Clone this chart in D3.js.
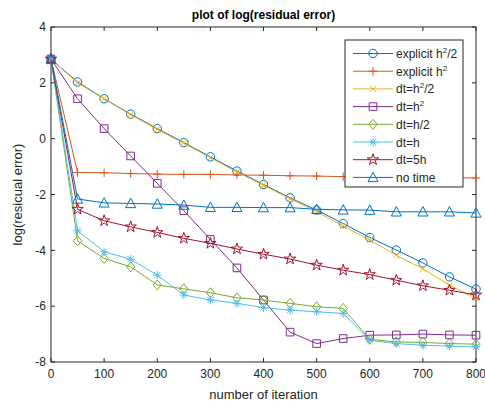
<!DOCTYPE html>
<html>
<head>
<meta charset="utf-8">
<script src="https://cdn.jsdelivr.net/npm/d3@7"></script>
<style>
body { margin: 0; background: #fff; }
text { font-family: "Liberation Sans", Arial, sans-serif; fill: #262626; }
</style>
</head>
<body>
<div id="chart"></div>
<script>
var iterations = [0,50,100,150,200,250,300,350,400,450,500,550,600,650,700,750,800];
var explicitHalf = [2.85,2.03,1.43,0.88,0.36,-0.14,-0.65,-1.16,-1.64,-2.12,-2.56,-3.04,-3.54,-3.99,-4.45,-4.95,-5.39];
var explicitH2 = [2.85,-1.21,-1.22,-1.25,-1.27,-1.28,-1.28,-1.3,-1.31,-1.33,-1.34,-1.36,-1.37,-1.38,-1.39,-1.4,-1.41];
var dtH2Half = [2.85,2.0,1.42,0.86,0.33,-0.17,-0.68,-1.2,-1.67,-2.15,-2.62,-3.13,-3.63,-4.18,-4.66,-5.25,-5.72];
var dtH2 = [2.85,1.43,0.36,-0.62,-1.6,-2.58,-3.61,-4.63,-5.78,-6.93,-7.34,-7.16,-7.04,-7.03,-7.0,-7.03,-7.04];
var dtHHalf = [2.85,-3.66,-4.29,-4.59,-5.24,-5.38,-5.52,-5.7,-5.78,-5.9,-6.02,-6.08,-7.19,-7.28,-7.3,-7.34,-7.36];
var dtH = [2.85,-3.3,-4.05,-4.32,-4.89,-5.6,-5.78,-5.9,-6.05,-6.14,-6.2,-6.26,-7.22,-7.34,-7.4,-7.43,-7.46];
var dt5H = [2.85,-2.53,-2.94,-3.16,-3.36,-3.57,-3.75,-3.95,-4.14,-4.31,-4.53,-4.71,-4.87,-5.07,-5.27,-5.43,-5.6];
var noTime = [2.85,-2.16,-2.3,-2.32,-2.34,-2.38,-2.46,-2.46,-2.47,-2.47,-2.53,-2.55,-2.56,-2.62,-2.62,-2.62,-2.66];
var xTicks = [0,100,200,300,400,500,600,700,800];
var yTicks = [-8,-6,-4,-2,0,2,4];

var series = [
  {name: ["explicit h","2","/2"], values: explicitHalf, color: "#0072BD", marker: "circle"},
  {name: ["explicit h","2",""], values: explicitH2, color: "#D95319", marker: "plus"},
  {name: ["dt=h","2","/2"], values: dtH2Half, color: "#EDB120", marker: "x"},
  {name: ["dt=h","2",""], values: dtH2, color: "#7E2F8E", marker: "square"},
  {name: ["dt=h/2","",""], values: dtHHalf, color: "#77AC30", marker: "diamond"},
  {name: ["dt=h","",""], values: dtH, color: "#4DBEEE", marker: "asterisk"},
  {name: ["dt=5h","",""], values: dt5H, color: "#A2142F", marker: "star"},
  {name: ["no time","",""], values: noTime, color: "#0072BD", marker: "triangle"}
];

var W = 485, H = 406;
var margin = {top:27, right:9, bottom:44, left:51},
  width = W - margin.left - margin.right,
  height = H - margin.top - margin.bottom;

var svg = d3.select("#chart").append("svg")
  .attr("width", W).attr("height", H);
var g = svg.append("g")
  .attr("transform", `translate(${margin.left},${margin.top})`);

var x = d3.scaleLinear().domain([0,800]).range([0,width]);
var y = d3.scaleLinear().domain([-8,4]).range([height,0]);

// marker shapes, MATLAB style
function markerPath(type) {
  var r = 4.2;
  switch (type) {
    case "circle": return d3.symbol(d3.symbolCircle, 56)();
    case "plus": return `M${-r},0H${r}M0,${-r}V${r}`;
    case "x": var a = r*0.8; return `M${-a},${-a}L${a},${a}M${-a},${a}L${a},${-a}`;
    case "square": var s = 3.8; return `M${-s},${-s}H${s}V${s}H${-s}Z`;
    case "diamond": return `M0,${-r-0.8}L${r},0L0,${r+0.8}L${-r},0Z`;
    case "asterisk": var b = r*0.75; return `M${-r},0H${r}M0,${-r}V${r}M${-b},${-b}L${b},${b}M${-b},${b}L${b},${-b}`;
    case "star": return d3.symbol(d3.symbolStar, 40)();
    case "triangle": return `M0,${-r-1}L${r+0.8},${r}L${-r-0.8},${r}Z`;
  }
}

// box and ticks
var axisColor = "#262626";
g.append("rect").attr("width", width).attr("height", height)
  .attr("fill", "none").attr("stroke", axisColor).attr("stroke-width", 1);

xTicks.forEach(function(t) {
  g.append("line").attr("x1", x(t)).attr("x2", x(t)).attr("y1", height).attr("y2", height-4)
    .attr("stroke", axisColor);
  g.append("line").attr("x1", x(t)).attr("x2", x(t)).attr("y1", 0).attr("y2", 4)
    .attr("stroke", axisColor);
  g.append("text").attr("x", x(t)).attr("y", height + 16)
    .attr("text-anchor", "middle").style("font-size", "12px").text(t);
});
yTicks.forEach(function(t) {
  g.append("line").attr("x1", 0).attr("x2", 4).attr("y1", y(t)).attr("y2", y(t))
    .attr("stroke", axisColor);
  g.append("line").attr("x1", width).attr("x2", width-4).attr("y1", y(t)).attr("y2", y(t))
    .attr("stroke", axisColor);
  g.append("text").attr("x", -5).attr("y", y(t)).attr("dy", "0.35em")
    .attr("text-anchor", "end").style("font-size", "12px").text(t);
});

svg.append("text").attr("x", margin.left + width/2).attr("y", 399)
  .attr("text-anchor", "middle").style("font-size", "13px").text("number of iteration");
svg.append("text").attr("transform", `translate(22,${margin.top + height/2}) rotate(-90)`)
  .attr("text-anchor", "middle").style("font-size", "13px").text("log(resicual error)");
svg.append("text").attr("x", margin.left + width/2).attr("y", 19)
  .attr("text-anchor", "middle").style("font-size", "12px").style("font-weight", "bold")
  .style("fill", "#000").text("plot of log(residual error)");

var line = d3.line()
  .x((d, i) => x(iterations[i]))
  .y(d => y(d));

series.forEach(function(s) {
  g.append("path").datum(s.values)
    .attr("fill", "none").attr("stroke", s.color).attr("stroke-width", 1)
    .attr("d", line);
  g.selectAll(null).data(s.values).enter().append("path")
    .attr("transform", (d, i) => `translate(${x(iterations[i])},${y(d)})`)
    .attr("d", markerPath(s.marker))
    .attr("fill", "none").attr("stroke", s.color).attr("stroke-width", 1);
});

// legend
var lg = svg.append("g").attr("transform", "translate(345,40)");
lg.append("rect").attr("width", 118).attr("height", 147)
  .attr("fill", "#fff").attr("stroke", axisColor).attr("stroke-width", 1);
var item = lg.selectAll(".legend").data(series).enter().append("g")
  .attr("class", "legend")
  .attr("transform", (d, i) => `translate(0,${13.5 + i*17.7})`);
item.append("line").attr("x1", 8).attr("x2", 48)
  .attr("stroke", d => d.color).attr("stroke-width", 1);
item.append("path").attr("transform", "translate(28,0)")
  .attr("d", d => markerPath(d.marker))
  .attr("fill", "none").attr("stroke", d => d.color);
var txt = item.append("text").attr("x", 51).attr("y", 4.5).style("font-size", "12px");
txt.append("tspan").text(d => d.name[0]);
txt.append("tspan").attr("dy", d => d.name[1] ? -5 : 0).style("font-size", "8px").text(d => d.name[1]);
txt.append("tspan").attr("dy", d => d.name[1] ? 5 : 0).text(d => d.name[2]);
</script>
</body>
</html>
